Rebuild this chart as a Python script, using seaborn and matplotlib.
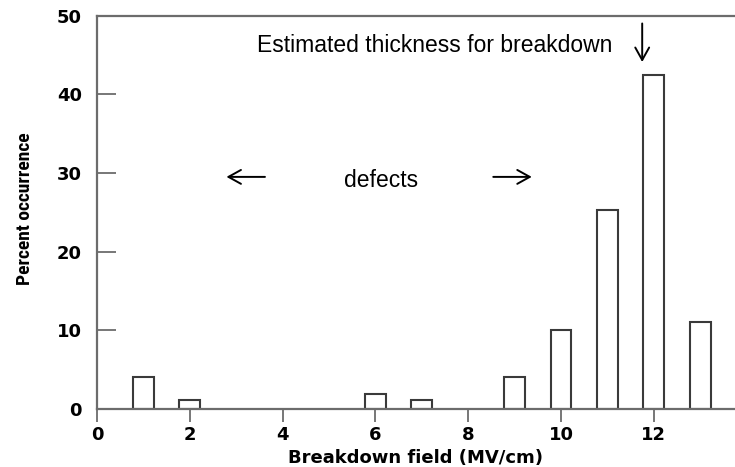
import matplotlib
matplotlib.use("Agg")
import matplotlib.pyplot as plt
import seaborn as sns
import pandas as pd

# Data
field = [1, 2, 6, 7, 9, 10, 11, 12, 13]
percent = [4.1, 1.1, 1.9, 1.1, 4.1, 10.0, 25.3, 42.5, 11.1]
xticks = [0, 2, 4, 6, 8, 10, 12]
yticks = [0, 10, 20, 30, 40, 50]

sns.set_style("ticks")
plt.rcParams['font.family'] = ['DejaVu Sans']
plt.rcParams['text.color'] = 'black'
plt.rcParams['xtick.labelcolor'] = 'black'
plt.rcParams['ytick.labelcolor'] = 'black'
plt.rcParams['axes.labelcolor'] = 'black'

df = pd.DataFrame({"field": field, "percent": percent})

fig = plt.figure(figsize=(7.35, 4.67), dpi=100)
ax = fig.add_axes([97 / 735, 58 / 467, 638 / 735, (409 - 15.6) / 467])

spine_col = "#6c6c6c"
sns.barplot(data=df, x="field", y="percent", native_scale=True, width=0.45,
            color="white", edgecolor="#3a3a3a", linewidth=1.5, ax=ax,
            errorbar=None, saturation=1)

ax.set_xlim(0, 13.75)
ax.set_ylim(0, 50)
ax.set_xticks(xticks)
ax.set_yticks(yticks)
ax.set_xticklabels([str(t) for t in xticks], fontsize=13, fontweight="bold")
ax.set_yticklabels([str(t) for t in yticks], fontsize=13, fontweight="bold")

for s in ["left", "bottom", "top"]:
    ax.spines[s].set_visible(True)
    ax.spines[s].set_color(spine_col)
    ax.spines[s].set_linewidth(1.6)
ax.spines["right"].set_visible(False)

ax.tick_params(axis="y", direction="in", length=14, width=1.3, color=spine_col, pad=11)
ax.tick_params(axis="x", direction="out", length=9, width=1.3, color=spine_col, pad=3)

ax.set_xlabel("Breakdown field (MV/cm)", fontsize=13, fontweight="bold", labelpad=4)
ax.set_ylabel("")
fig.text(25 / 735, 1 - 209 / 467, "Percent occurrence", rotation=90,
         ha="center", va="center", fontsize=14, fontweight="bold",
         family=["Roboto Condensed", "Liberation Sans Narrow", "Liberation Sans"])

ann = ["Liberation Sans", "DejaVu Sans"]
ax.text(3.44, 46.2, "Estimated thickness for breakdown", ha="left", va="center",
        fontsize=16.5, family=ann)
ax.text(6.13, 29.0, "defects", ha="center", va="center", fontsize=16.5, family=ann)

arrow_kw = dict(arrowstyle="->,head_length=0.45,head_width=0.25", color="black",
                lw=1.4, shrinkA=0, shrinkB=0, mutation_scale=20)
ax.annotate("", xy=(11.75, 44.1), xytext=(11.75, 49.0), arrowprops=arrow_kw)
ax.annotate("", xy=(2.79, 29.5), xytext=(3.62, 29.5), arrowprops=arrow_kw)
ax.annotate("", xy=(9.37, 29.5), xytext=(8.54, 29.5), arrowprops=arrow_kw)

fig.savefig("out.png", dpi=100, facecolor="white")
